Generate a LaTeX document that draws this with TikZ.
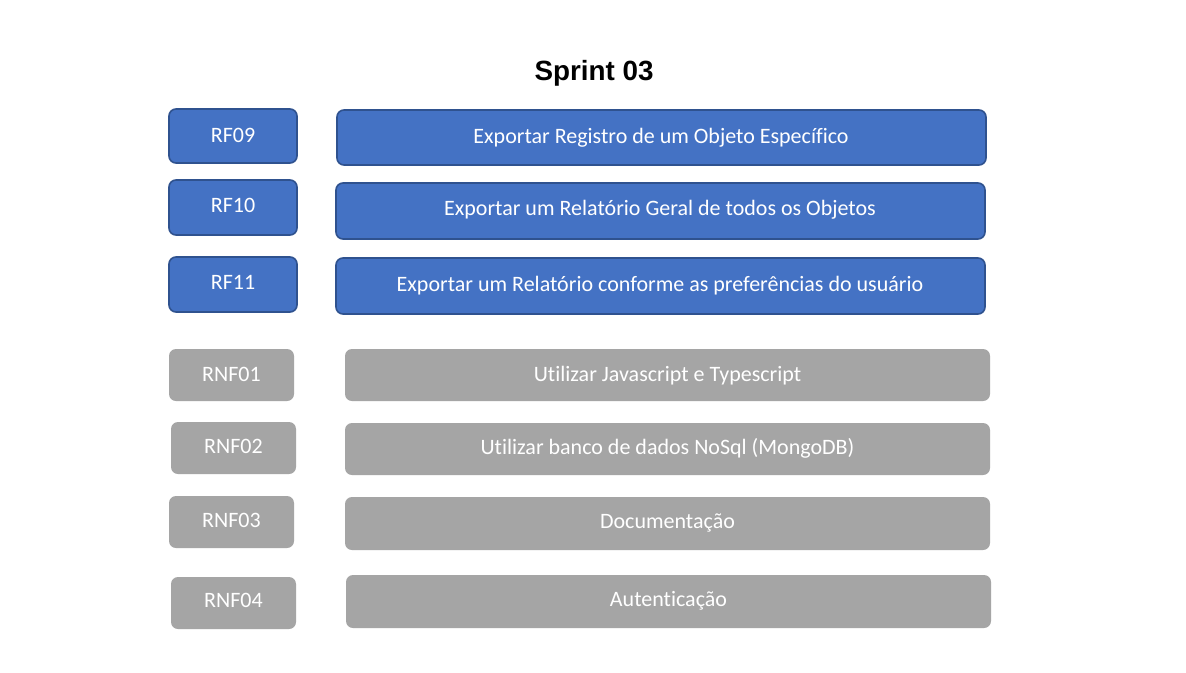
\documentclass[tikz,border=0pt]{standalone}
\usepackage{fontspec}
\setmainfont{Carlito}[RawFeature=-liga]
\newfontfamily\titlefont{Liberation Sans}
\definecolor{rfblue}{HTML}{4472C4}
\definecolor{rfborder}{HTML}{2F528F}
\definecolor{rnfgray}{HTML}{A5A5A5}
\begin{document}
\begin{tikzpicture}[x=1pt,y=-1pt,
  rfbox/.style={draw=rfborder,line width=1.6pt,fill=rfblue,rounded corners=7pt},
  rnfbox/.style={fill=rnfgray,rounded corners=7pt},
  lbl/.style={text=white,font=\fontsize{22}{24}\selectfont,inner sep=0pt,anchor=base}]
\useasboundingbox (0,0) rectangle (1186,672);
\fill[white] (0,0) rectangle (1186,672);
\node[font=\titlefont\bfseries\fontsize{27.8}{30}\selectfont] (title) at (594,73) {Sprint 03};
% RF boxes
\path[rfbox] (169,109) rectangle (297,163);
\node[lbl] (rf09) at (233,142) {RF09};
\path[rfbox] (337,110) rectangle (986,165);
\node[lbl] (rf09d) at (661,143) {Exportar Registro de um Objeto Específico};
\path[rfbox] (169,180) rectangle (297,235);
\node[lbl] (rf10) at (233,212) {RF10};
\path[rfbox] (336,183) rectangle (985,239);
\node[lbl] (rf10d) at (660,215) {Exportar um Relatório Geral de todos os Objetos};
\path[rfbox] (169,257) rectangle (297,312);
\node[lbl] (rf11) at (233,289) {RF11};
\path[rfbox] (336,258) rectangle (985,314);
\node[lbl] (rf11d) at (660,291) {Exportar um Relatório conforme as preferências do usuário};
% RNF boxes
\path[rnfbox] (169,349) rectangle (294,401);
\node[lbl] (rnf01) at (231.5,381) {RNF01};
\path[rnfbox] (345,349) rectangle (990,401);
\node[lbl] (rnf01d) at (667.5,381) {Utilizar Javascript e Typescript};
\path[rnfbox] (171,422) rectangle (296,474);
\node[lbl] (rnf02) at (233.5,453) {RNF02};
\path[rnfbox] (345,423) rectangle (990,475);
\node[lbl] (rnf02d) at (667.5,454) {Utilizar banco de dados NoSql (MongoDB)};
\path[rnfbox] (169,496) rectangle (294,548);
\node[lbl] (rnf03) at (231.5,527) {RNF03};
\path[rnfbox] (345,497) rectangle (990,550);
\node[lbl] (rnf03d) at (667.5,528) {Documentação};
\path[rnfbox] (171,577) rectangle (296,629);
\node[lbl] (rnf04) at (233.5,607) {RNF04};
\path[rnfbox] (346,575) rectangle (991,628);
\node[lbl] (rnf04d) at (668.5,606) {Autenticação};
\end{tikzpicture}
\end{document}
